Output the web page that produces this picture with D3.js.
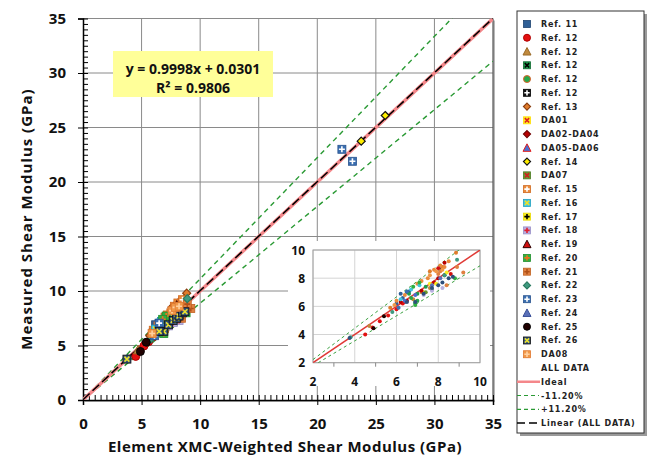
<!DOCTYPE html>
<html><head><meta charset="utf-8">
<script src="https://cdn.jsdelivr.net/npm/d3@7"></script>
<style>body{margin:0;background:#fff}svg{display:block}</style>
</head><body>
<svg id="chart" width="657" height="464"></svg>
<script>
// Shear modulus data, GPa: [element XMC-weighted, measured]
const ref11 = [[6.3,6.6],[6.5,7.0],[6.6,7.05],[6.0,6.2],[6.4,6.3],[6.2,6.9]];
const ref12a = [[4.5,4.0],[4.85,4.5],[5.2,4.95],[5.6,5.35],[6.0,5.8],[6.3,6.2]];
const ref12b = [[6.8,6.5],[7.2,7.0],[7.6,7.3],[4.7,4.6]];
const ref12c = [[6.6,6.9],[7.0,6.9],[7.4,7.4]];
const ref12d = [[6.9,6.2],[7.0,6.4],[6.7,6.6],[6.9,6.3]];
const ref12e = [[8.1,8.6],[8.3,8.2],[8.2,8.75]];
const ref13 = [[8.85,9.8],[7.6,8.5],[8.2,8.8],[5.7,5.9]];
const da01 = [[7.3,7.0],[7.6,7.6]];
const da02to04 = [[6.5,6.4],[6.2,6.3],[7.2,7.1],[7.8,7.7],[8.0,8.0],[8.3,9.1]];
const da05to06 = [[6.4,6.4],[6.9,6.8]];
const ref14 = [[23.75,23.75],[25.8,26.1]];
const da07 = [[7.4,7.0],[7.7,7.2]];
const ref15 = [[7.2,7.8],[7.5,8.0],[7.8,8.6],[8.1,8.9],[8.3,8.8],[7.0,7.6],[8.5,9.2],[6.0,6.4],[6.4,6.8]];
const ref16 = [[6.7,7.2],[7.1,7.5],[6.2,6.5]];
const ref17 = [[7.9,7.6],[8.4,8.4]];
const ref18 = [[7.7,7.1],[8.2,7.3],[7.3,6.8]];
const ref19 = [[8.0,8.7],[8.6,8.3]];
const ref20 = [[7.1,7.7],[6.8,7.4],[8.8,8.0],[6.9,6.1]];
const ref21 = [[8.0,8.3],[8.4,7.5],[9.2,8.4],[8.9,8.8],[8.1,8.5]];
const ref22 = [[3.8,3.8],[5.8,5.6],[8.3,8.2],[8.9,9.3]];
const ref23 = [[22.1,23.0],[23.0,21.9],[6.5,7.05],[6.1,5.9]];
const ref24 = [[7.7,7.5],[8.1,8.0]];
const ref25 = [[5.4,5.3],[4.9,4.45]];
const ref26 = [[6.9,6.3],[7.3,6.9],[7.7,7.3],[8.0,7.5],[8.2,7.7],[8.5,8.0],[8.7,8.1],[6.5,6.3],[3.75,3.75]];
const da08 = [[7.6,8.2],[7.9,8.5],[8.2,8.6],[5.9,6.1]];

const seriesData = [ref11, ref12a, ref12b, ref12c, ref12d, ref12e, ref13, da01, da02to04, da05to06,
  ref14, da07, ref15, ref16, ref17, ref18, ref19, ref20, ref21, ref22, ref23, ref24, ref25, ref26, da08];
const seriesLabels = ["Ref. 11","Ref. 12","Ref. 12","Ref. 12","Ref. 12","Ref. 12","Ref. 13","DA01",
  "DA02-DA04","DA05-DA06","Ref. 14","DA07","Ref. 15","Ref. 16","Ref. 17","Ref. 18","Ref. 19",
  "Ref. 20","Ref. 21","Ref. 22","Ref. 23","Ref. 24","Ref. 25","Ref. 26","DA08"];
const lineLabels = ["ALL DATA","Ideal","-11.20%","+11.20%","Linear (ALL DATA)"];

const axisTicks = [0,5,10,15,20,25,30,35];
const insetTicks = [2,4,6,8,10];
const fitSlope = 0.9998, fitIntercept = 0.0301, rSquared = 0.9806;
const bandFraction = 0.112;

// marker look for each series: shape, fill, stroke, overlay glyph
const markerStyles = [
  {shape:"square", fill:"#2f5f96", stroke:"#1f4470"},
  {shape:"circle", fill:"#e31010", stroke:"#b00000"},
  {shape:"triangle", fill:"#c08a3e", stroke:"#9a6a28"},
  {shape:"square", fill:"#1e9a4c", stroke:"#0f6a30", glyph:"x", glyphColor:"#000"},
  {shape:"circle", fill:"#27a84a", stroke:"#e0602a"},
  {shape:"square", fill:"#111", stroke:"#000", glyph:"+", glyphColor:"#fff"},
  {shape:"diamond", fill:"#e07c2c", stroke:"#8a3e10"},
  {shape:"square", fill:"#ffee22", stroke:"#ffdd00", glyph:"x", glyphColor:"#e02020"},
  {shape:"diamond", fill:"#b80000", stroke:"#700000"},
  {shape:"triangle", fill:"#4a6fd0", stroke:"#e02020"},
  {shape:"diamond", fill:"#ffee00", stroke:"#111"},
  {shape:"square", fill:"#6a9a30", stroke:"#4a7a20", glyph:"x", glyphColor:"#d02020"},
  {shape:"square", fill:"#ea8a3c", stroke:"#d06a20", glyph:"+", glyphColor:"#fff"},
  {shape:"square", fill:"#44c6e0", stroke:"#20a0c0", glyph:"x", glyphColor:"#f5e020"},
  {shape:"square", fill:"#f8ee20", stroke:"#e8d800", glyph:"+", glyphColor:"#000"},
  {shape:"square", fill:"#b8b0e0", stroke:"#9890c8", glyph:"+", glyphColor:"#e02030"},
  {shape:"triangle", fill:"#d01010", stroke:"#300000"},
  {shape:"square", fill:"#30b040", stroke:"#20902c", glyph:"+", glyphColor:"#f07020"},
  {shape:"square", fill:"#e08040", stroke:"#c06020", glyph:"+", glyphColor:"#b05018"},
  {shape:"diamond", fill:"#3f9a80", stroke:"#2a7a60"},
  {shape:"square", fill:"#3a6eb0", stroke:"#2a5490", glyph:"+", glyphColor:"#fff"},
  {shape:"triangle", fill:"#5a70b8", stroke:"#3a5098"},
  {shape:"circle", fill:"#200000", stroke:"#000"},
  {shape:"square", fill:"#2e4f7a", stroke:"#111", glyph:"x", glyphColor:"#e8e030"},
  {shape:"square", fill:"#f09848", stroke:"#e07830", glyph:"+", glyphColor:"#ffd0a0"}
];

const svg = d3.select("#chart");
const plot = {left:83, right:493, top:18.5, bottom:400};
const x = d3.scaleLinear().domain([0,35]).range([plot.left, plot.right]);
const y = d3.scaleLinear().domain([0,35]).range([plot.bottom, plot.top]);
const bold = "'Open Sans', sans-serif";

// plot-area shadow and frame
svg.append("rect").attr("x", plot.left+2).attr("y", plot.top+2)
  .attr("width", plot.right-plot.left).attr("height", plot.bottom-plot.top)
  .attr("fill", "#b8b8b8");
svg.append("rect").attr("x", plot.left).attr("y", plot.top)
  .attr("width", plot.right-plot.left).attr("height", plot.bottom-plot.top)
  .attr("fill", "#fff");

// grid
const grid = svg.append("g").attr("stroke", "#8a8a8a").attr("stroke-width", 1);
axisTicks.filter(t => t > 0 && t < 35).forEach(t => {
  grid.append("line").attr("x1", x(t)).attr("x2", x(t)).attr("y1", plot.top).attr("y2", plot.bottom);
});
axisTicks.filter(t => t > 0).forEach(t => {
  grid.append("line").attr("x1", plot.left).attr("x2", plot.right).attr("y1", y(t)).attr("y2", y(t));
});
svg.append("line").attr("x1", plot.right).attr("x2", plot.right).attr("y1", plot.top).attr("y2", plot.bottom)
  .attr("stroke", "#555").attr("stroke-width", 1.2);

// axes: major ticks cross the axis, minor ticks point inward
const minor = d3.range(0, 35.01, 0.5);
const xAxis = svg.append("g").attr("transform", `translate(0,${plot.bottom})`)
  .call(d3.axisBottom(x).tickValues(axisTicks).tickSize(5).tickPadding(13).tickFormat(d3.format("d")));
const yAxis = svg.append("g").attr("transform", `translate(${plot.left},0)`)
  .call(d3.axisLeft(y).tickValues(axisTicks).tickSize(5).tickPadding(12).tickFormat(d3.format("d")));
svg.append("g").attr("transform", `translate(0,${plot.bottom})`)
  .call(d3.axisBottom(x).tickValues(minor).tickSize(-5).tickFormat(""))
  .call(g => g.select(".domain").remove());
svg.append("g").attr("transform", `translate(${plot.left},0)`)
  .call(d3.axisLeft(y).tickValues(minor).tickSize(-5).tickFormat(""))
  .call(g => g.select(".domain").remove());
[xAxis, yAxis].forEach(a => {
  a.select(".domain").attr("stroke", "#000").attr("stroke-width", 1.5);
  a.selectAll("text").attr("font-family", bold).attr("font-weight", 700)
    .attr("font-size", 15).attr("fill", "#111");
});
svg.selectAll(".tick line").attr("stroke", "#000");

// clipped reference lines
svg.append("clipPath").attr("id", "plotClip").append("rect")
  .attr("x", plot.left).attr("y", plot.top).attr("width", plot.right-plot.left).attr("height", plot.bottom-plot.top);
const lines = svg.append("g").attr("clip-path", "url(#plotClip)");
const seg = (g, f, x0, x1, sx, sy) => g.append("line")
  .attr("x1", sx(x0)).attr("y1", sy(f(x0))).attr("x2", sx(x1)).attr("y2", sy(f(x1)));
seg(lines, v => v*(1+bandFraction), 0, 35, x, y).attr("stroke", "#2a9a34").attr("stroke-width", 1.4).attr("stroke-dasharray", "5,4");
seg(lines, v => v*(1-bandFraction), 0, 35, x, y).attr("stroke", "#2a9a34").attr("stroke-width", 1.4).attr("stroke-dasharray", "5,4");
seg(lines, v => v, 0, 35, x, y).attr("stroke", "#f4878a").attr("stroke-width", 3.5);
seg(lines, v => fitSlope*v + fitIntercept, 0, 35, x, y).attr("stroke", "#000").attr("stroke-width", 1.5).attr("stroke-dasharray", "9,4");

// marker drawing
function marker(g, st, cx, cy, s) {
  const m = g.append("g").attr("transform", `translate(${cx},${cy})`);
  const h = s/2;
  if (st.shape === "square") {
    m.append("rect").attr("x", -h).attr("y", -h).attr("width", s).attr("height", s)
      .attr("fill", st.fill).attr("stroke", st.stroke).attr("stroke-width", 0.8);
  } else if (st.shape === "circle") {
    m.append("circle").attr("r", h).attr("fill", st.fill).attr("stroke", st.stroke).attr("stroke-width", 1);
  } else if (st.shape === "triangle") {
    m.append("path").attr("d", `M0,${-h-0.5}L${h+0.5},${h}L${-h-0.5},${h}Z`)
      .attr("fill", st.fill).attr("stroke", st.stroke).attr("stroke-width", 1);
  } else if (st.shape === "diamond") {
    m.append("path").attr("d", `M0,${-h}L${h},0L0,${h}L${-h},0Z`)
      .attr("fill", st.fill).attr("stroke", st.stroke).attr("stroke-width", 1.2);
  }
  const k = h*0.62;
  if (st.glyph === "x") {
    m.append("path").attr("d", `M${-k},${-k}L${k},${k}M${-k},${k}L${k},${-k}`)
      .attr("stroke", st.glyphColor).attr("stroke-width", 1.6);
  } else if (st.glyph === "+") {
    m.append("path").attr("d", `M${-k-0.5},0L${k+0.5},0M0,${-k-0.5}L0,${k+0.5}`)
      .attr("stroke", st.glyphColor).attr("stroke-width", 1.6);
  }
}

// scatter in the main plot
const pts = svg.append("g").attr("clip-path", "url(#plotClip)");
seriesData.forEach((data, i) => {
  data.forEach(d => marker(pts, markerStyles[i], x(d[0]), y(d[1]), 8));
});

// equation box
const eq = svg.append("g");
eq.append("rect").attr("x", 113).attr("y", 51).attr("width", 160).attr("height", 46).attr("fill", "#ffff99");
eq.append("text").attr("x", 193).attr("y", 74).attr("text-anchor", "middle")
  .attr("font-family", bold).attr("font-weight", 700).attr("font-size", 14).attr("fill", "#111")
  .text(`y = ${fitSlope.toFixed(4)}x + ${fitIntercept.toFixed(4)}`);
eq.append("text").attr("x", 193).attr("y", 93).attr("text-anchor", "middle")
  .attr("font-family", bold).attr("font-weight", 700).attr("font-size", 14).attr("fill", "#111")
  .text(`R² = ${rSquared.toFixed(4)}`);

// axis titles
svg.append("text").attr("x", 285).attr("y", 452).attr("text-anchor", "middle")
  .attr("font-family", bold).attr("font-weight", 700).attr("font-size", 15).attr("letter-spacing", 0.5).attr("fill", "#111")
  .text("Element XMC-Weighted Shear Modulus (GPa)");
svg.append("text").attr("transform", "translate(32,219) rotate(-90)").attr("text-anchor", "middle")
  .attr("font-family", bold).attr("font-weight", 700).attr("font-size", 15).attr("letter-spacing", 1).attr("fill", "#111")
  .text("Measured Shear Modulus (GPa)");

// inset: zoom on 2–10 GPa
const ix = d3.scaleLinear().domain([2,10]).range([313,480]);
const iy = d3.scaleLinear().domain([2,10]).range([362.7,250]);
svg.append("rect").attr("x", 288).attr("y", 241).attr("width", 202).attr("height", 145).attr("fill", "#fff");
const ig = svg.append("g");
insetTicks.forEach(t => {
  ig.append("line").attr("x1", ix(t)).attr("x2", ix(t)).attr("y1", iy(10)).attr("y2", iy(2)).attr("stroke", "#d4d4d4");
  ig.append("line").attr("x1", ix(2)).attr("x2", ix(10)).attr("y1", iy(t)).attr("y2", iy(t)).attr("stroke", "#d4d4d4");
});
ig.append("rect").attr("x", ix(2)).attr("y", iy(10)).attr("width", ix(10)-ix(2)).attr("height", iy(2)-iy(10))
  .attr("fill", "none").attr("stroke", "#a0a0a0");
[3,5,7,9].forEach(t => ig.append("line").attr("x1", ix(t)).attr("x2", ix(t)).attr("y1", iy(2)).attr("y2", iy(2)+4).attr("stroke", "#888"));
svg.append("clipPath").attr("id", "insetClip").append("rect")
  .attr("x", ix(2)).attr("y", iy(10)).attr("width", ix(10)-ix(2)).attr("height", iy(2)-iy(10));
const il = svg.append("g").attr("clip-path", "url(#insetClip)");
seg(il, v => v*(1+bandFraction), 2, 10, ix, iy).attr("stroke", "#3aa040").attr("stroke-width", 1).attr("stroke-dasharray", "3,3");
seg(il, v => v*(1-bandFraction), 2, 10, ix, iy).attr("stroke", "#3aa040").attr("stroke-width", 1).attr("stroke-dasharray", "3,3");
seg(il, v => v, 2, 10, ix, iy).attr("stroke", "#e03a36").attr("stroke-width", 1.5);
seriesData.forEach((data, i) => {
  data.filter(d => d[0] <= 10 && d[1] <= 10).forEach(d => {
    il.append("circle").attr("cx", ix(d[0])).attr("cy", iy(d[1])).attr("r", 2)
      .attr("fill", markerStyles[i].fill === "#111" ? "#333" : markerStyles[i].fill);
  });
});
insetTicks.forEach(t => {
  ig.append("text").attr("x", ix(t)).attr("y", 386).attr("text-anchor", "middle")
    .attr("font-family", bold).attr("font-weight", 700).attr("font-size", 12).attr("fill", "#111").text(t);
  ig.append("text").attr("x", 305).attr("y", iy(t)+4.5).attr("text-anchor", "end")
    .attr("font-family", bold).attr("font-weight", 700).attr("font-size", 12).attr("fill", "#111").text(t);
});

// legend
const lg = svg.append("g");
lg.append("rect").attr("x", 520).attr("y", 14).attr("width", 127).attr("height", 422).attr("fill", "#9a9a9a");
lg.append("rect").attr("x", 517).attr("y", 11).attr("width", 127).attr("height", 422)
  .attr("fill", "#fff").attr("stroke", "#333").attr("stroke-width", 1);
const rowY = i => 24 + i*13.76;
const legendText = (i, label) => lg.append("text").attr("x", 541).attr("y", rowY(i)+3)
  .attr("font-family", "'DejaVu Sans', sans-serif").attr("font-weight", 700).attr("font-size", 8)
  .attr("letter-spacing", 0.8).attr("fill", "#222").text(label);
seriesLabels.forEach((label, i) => {
  marker(lg, markerStyles[i], 527, rowY(i), 7);
  legendText(i, label);
});
lineLabels.forEach((label, j) => {
  const i = seriesLabels.length + j;
  legendText(i, label);
  const ly = rowY(i);
  if (j === 1) lg.append("line").attr("x1", 517).attr("x2", 540).attr("y1", ly).attr("y2", ly).attr("stroke", "#f4878a").attr("stroke-width", 2.5);
  if (j === 2 || j === 3) lg.append("line").attr("x1", 517).attr("x2", 539).attr("y1", ly).attr("y2", ly).attr("stroke", "#2a9a34").attr("stroke-width", 1.2).attr("stroke-dasharray", "4,3");
  if (j === 4) lg.append("line").attr("x1", 517).attr("x2", 540).attr("y1", ly).attr("y2", ly).attr("stroke", "#000").attr("stroke-width", 1.5).attr("stroke-dasharray", "8,4");
});
</script>
</body></html>
